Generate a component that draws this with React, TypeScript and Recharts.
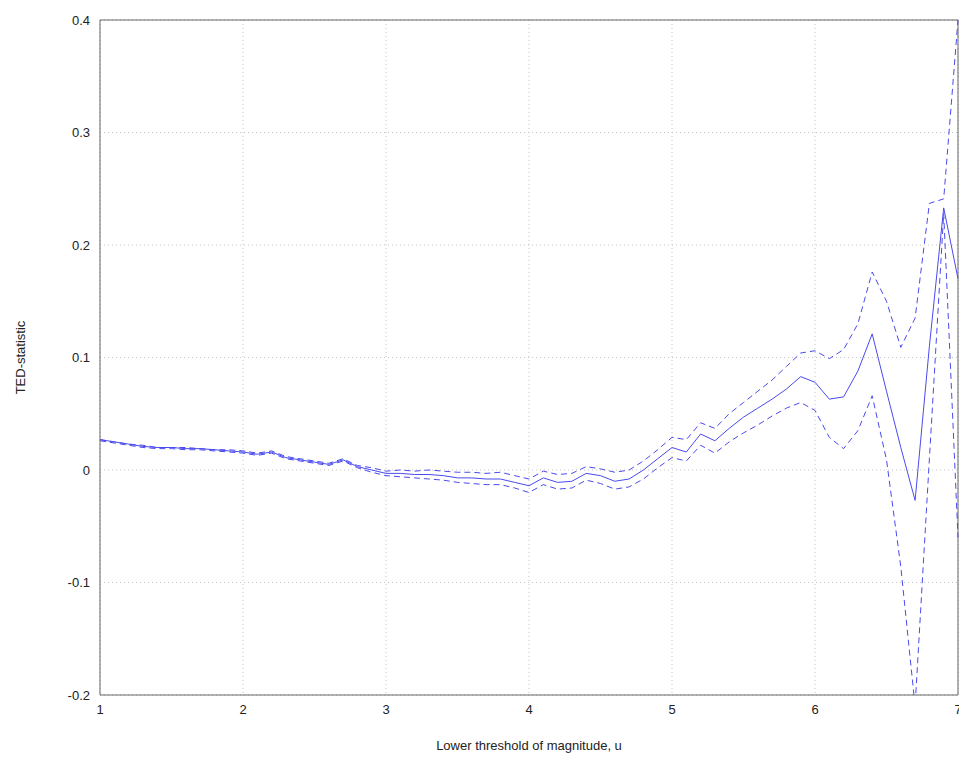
import {
  LineChart,
  Line,
  XAxis,
  YAxis,
  CartesianGrid,
  ReferenceLine,
} from "recharts";

const thresholds = [
  1.0, 1.1, 1.2, 1.3, 1.4, 1.5, 1.6, 1.7, 1.8, 1.9,
  2.0, 2.1, 2.2, 2.3, 2.4, 2.5, 2.6, 2.7, 2.8, 2.9,
  3.0, 3.1, 3.2, 3.3, 3.4, 3.5, 3.6, 3.7, 3.8, 3.9,
  4.0, 4.1, 4.2, 4.3, 4.4, 4.5, 4.6, 4.7, 4.8, 4.9,
  5.0, 5.1, 5.2, 5.3, 5.4, 5.5, 5.6, 5.7, 5.8, 5.9,
  6.0, 6.1, 6.2, 6.3, 6.4, 6.5, 6.6, 6.7, 6.8, 6.9,
  7.0,
];

const tedStat = [
  0.027, 0.025, 0.023, 0.021, 0.02, 0.02, 0.019, 0.019, 0.018, 0.017,
  0.016, 0.014, 0.016, 0.011, 0.009, 0.007, 0.005, 0.009, 0.003, 0.0,
  -0.003, -0.003, -0.004, -0.004, -0.005, -0.007, -0.007, -0.008, -0.008, -0.011,
  -0.014, -0.007, -0.011, -0.01, -0.003, -0.005, -0.01, -0.008, 0.0, 0.01,
  0.02, 0.016, 0.032, 0.026, 0.037, 0.047, 0.055, 0.063, 0.072, 0.083,
  0.078, 0.063, 0.065, 0.088, 0.121, 0.07, 0.02, -0.027, 0.11, 0.233,
  0.17,
];

const upperBound = [
  0.027, 0.025, 0.023, 0.022, 0.02, 0.02, 0.02, 0.019, 0.018, 0.018,
  0.017, 0.015, 0.017, 0.012, 0.01, 0.008, 0.006, 0.01, 0.004, 0.002,
  -0.001, 0.0, -0.001, 0.0, -0.001, -0.002, -0.002, -0.003, -0.002, -0.005,
  -0.008, -0.001, -0.004, -0.003, 0.003, 0.001, -0.002, 0.0, 0.008, 0.018,
  0.029, 0.027, 0.042, 0.037, 0.05, 0.06, 0.07, 0.08, 0.092, 0.104,
  0.106, 0.099, 0.107, 0.13, 0.176, 0.15, 0.109, 0.135, 0.237, 0.241,
  0.4,
];

const lowerBound = [
  0.026, 0.024, 0.022, 0.02, 0.019, 0.019, 0.018, 0.018, 0.017, 0.016,
  0.015, 0.013, 0.015, 0.01, 0.008, 0.006, 0.004, 0.008, 0.002, -0.002,
  -0.005, -0.006, -0.007, -0.008, -0.009, -0.011, -0.012, -0.013, -0.013, -0.016,
  -0.02, -0.013, -0.017, -0.016, -0.009, -0.012, -0.017, -0.015, -0.008, 0.002,
  0.011, 0.008, 0.022, 0.015, 0.025, 0.033, 0.04, 0.048, 0.055, 0.06,
  0.053, 0.029, 0.019, 0.035, 0.066, 0.009, -0.086, -0.21, 0.01, 0.228,
  -0.06,
];

const xTicks = [1, 2, 3, 4, 5, 6, 7];
const yTicks = [-0.2, -0.1, 0, 0.1, 0.2, 0.3, 0.4];

const data = thresholds.map((u, i) => ({
  u,
  ted: tedStat[i],
  upper: upperBound[i],
  lower: lowerBound[i],
}));

const blue = "#4a4aee";
const font = { fontSize: 13, fill: "#222", fontFamily: "Liberation Sans, Arial, sans-serif" };

export default function App() {
  return (
    <div style={{ width: 959, height: 752, overflow: "visible" }}>
      <LineChart
        width={959}
        height={752}
        data={data}
        margin={{ top: 12, right: 9, bottom: 0, left: 0 }}
        style={{ overflow: "visible" }}
      >
        <CartesianGrid stroke="#c4c4c4" strokeDasharray="1 3" />
        <XAxis
          dataKey="u"
          type="number"
          domain={[1, 7]}
          ticks={xTicks}
          tick={font}
          tickLine={false}
          stroke="#666"
          height={65}
          tickMargin={4}
          label={{
            value: "Lower threshold of magnitude, u",
            position: "insideBottom",
            offset: 10,
            style: font,
          }}
        />
        <YAxis
          type="number"
          domain={[-0.2, 0.4]}
          ticks={yTicks}
          allowDataOverflow
          tick={font}
          tickLine={false}
          stroke="#666"
          width={92}
          tickMargin={4}
          tickFormatter={(v: number) => (v === 0 ? "0" : v.toFixed(1))}
          label={{
            value: "TED-statistic",
            angle: -90,
            position: "insideLeft",
            offset: 12,
            style: { ...font, textAnchor: "middle" },
          }}
        />
        <ReferenceLine y={0.4} stroke="#666" />
        <ReferenceLine x={7} stroke="#666" />
        <Line
          dataKey="upper"
          stroke={blue}
          strokeWidth={1}
          strokeDasharray="6 4"
          dot={false}
          isAnimationActive={false}
        />
        <Line
          dataKey="lower"
          stroke={blue}
          strokeWidth={1}
          strokeDasharray="6 4"
          dot={false}
          isAnimationActive={false}
        />
        <Line
          dataKey="ted"
          stroke={blue}
          strokeWidth={1}
          dot={false}
          isAnimationActive={false}
        />
      </LineChart>
    </div>
  );
}
